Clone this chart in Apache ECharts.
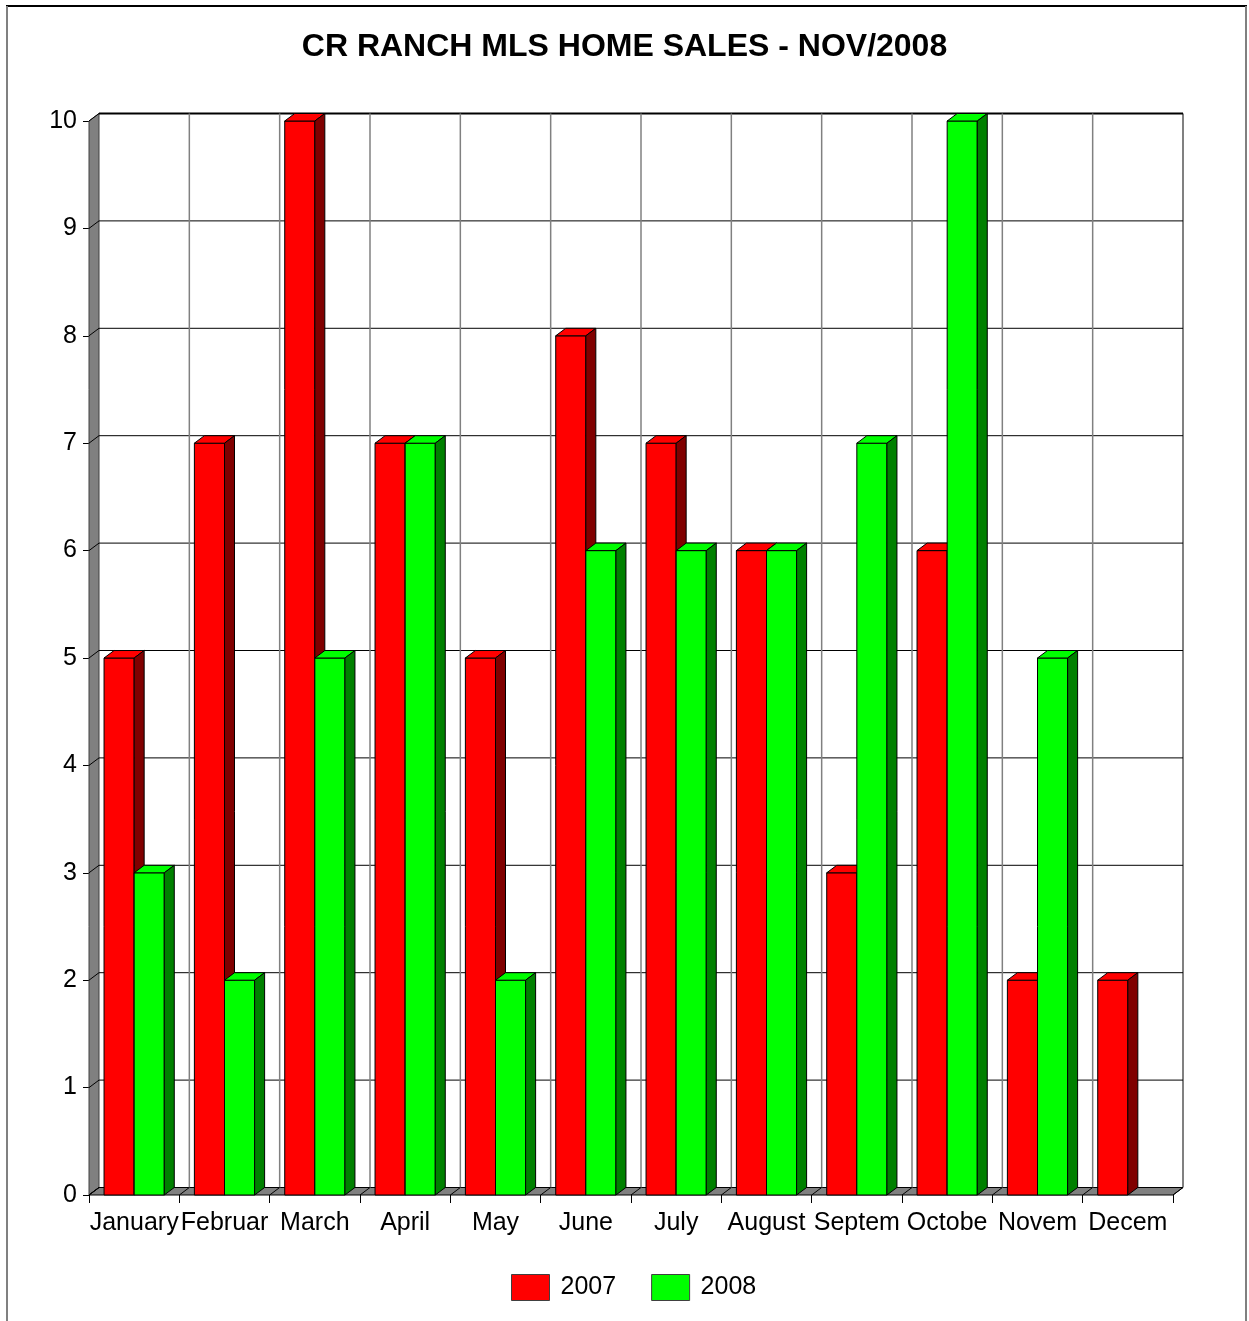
<!DOCTYPE html>
<html>
<head>
<meta charset="utf-8">
<script src="https://cdn.jsdelivr.net/npm/echarts@6/dist/echarts.min.js"></script>
<style>html,body{margin:0;padding:0;background:#fff;}#c{width:1249px;height:1321px;}</style>
</head>
<body>
<div id="c"></div>
<script>
const categories = ['January','Februar','March','April','May','June','July','August','Septem','Octobe','Novem','Decem'];
const sales2007 = [5, 7, 10, 7, 5, 8, 7, 6, 3, 6, 2, 2];
const sales2008 = [3, 2, 5, 7, 2, 6, 6, 6, 7, 10, 5, null];
const yTicks = [0,1,2,3,4,5,6,7,8,9,10];

const DX = 10, DY = 7.5; // 3D depth offset
const FONT = '"Liberation Sans", Arial, sans-serif';

function boxRender(front, side) {
  return function (params, api) {
    const v = api.value(1);
    if (v === null || v === undefined || isNaN(v) || v <= 0) return null;
    const idx = api.value(0);
    const band = api.size([1, 0])[0];
    const bw = band / 3;
    const c = api.coord([idx, v]);
    const b = api.coord([idx, 0]);
    const isFirst = params.seriesIndex === 3;
    const x0 = isFirst ? c[0] - bw : c[0];
    const x1 = x0 + bw;
    const yt = c[1], yb = b[1];
    const st = {stroke: '#000', lineWidth: 1};
    return {
      type: 'group',
      children: [
        {type: 'rect', shape: {x: x0, y: yt, width: bw, height: yb - yt}, style: Object.assign({fill: front}, st)},
        {type: 'polygon', shape: {points: [[x0, yt], [x1, yt], [x1 + DX, yt - DY], [x0 + DX, yt - DY]]}, style: Object.assign({fill: front}, st)},
        {type: 'polygon', shape: {points: [[x1, yt], [x1 + DX, yt - DY], [x1 + DX, yb - DY], [x1, yb]]}, style: Object.assign({fill: side}, st)}
      ]
    };
  };
}

const chart = echarts.init(document.getElementById('c'), null, {renderer: 'canvas'});
chart.setOption({
  backgroundColor: '#fff',
  animation: false,
  title: {
    text: 'CR RANCH MLS HOME SALES - NOV/2008',
    left: 'center', top: 26,
    textStyle: {fontFamily: FONT, fontSize: 32, fontWeight: 'bold', color: '#000'}
  },
  legend: {
    data: ['2007', '2008'],
    left: 506, top: 1269,
    icon: 'rect', itemWidth: 38, itemHeight: 26, itemGap: 35,
    textStyle: {fontFamily: FONT, fontSize: 25, color: '#000', padding: [0, 0, 0, 6]},
    itemStyle: {borderColor: '#404040', borderWidth: 1}
  },
  graphic: [
    {type: 'line', shape: {x1: 6, y1: 6, x2: 1247, y2: 6}, style: {stroke: '#000', lineWidth: 2}, z: 0},
    {type: 'line', shape: {x1: 7, y1: 6, x2: 7, y2: 1321}, style: {stroke: '#808080', lineWidth: 2}, z: 0},
    {type: 'line', shape: {x1: 1246, y1: 6, x2: 1246, y2: 1321}, style: {stroke: '#808080', lineWidth: 2}, z: 0}
  ],
  grid: {left: 89, right: 76, top: 121, bottom: 126, containLabel: false},
  xAxis: {
    type: 'category', data: categories, boundaryGap: true,
    axisLine: {show: false},
    axisTick: {show: true, interval: 0, length: 8, lineStyle: {color: '#000', width: 1}},
    axisLabel: {interval: 0, margin: 16, fontFamily: FONT, fontSize: 25, color: '#000'},
    splitLine: {show: false}
  },
  yAxis: {
    type: 'value', min: 0, max: 10, interval: 1,
    axisLine: {show: false},
    axisTick: {show: true, length: 6, lineStyle: {color: '#000', width: 1}},
    axisLabel: {margin: 12, fontFamily: FONT, fontSize: 25, color: '#000'},
    splitLine: {show: false}
  },
  series: [
    {
      type: 'custom', name: 'walls', silent: true, z: 1, legendHoverLink: false,
      data: [[0, 0]],
      renderItem: function (params, api) {
        const cs = params.coordSys;
        const xl = cs.x, xr = cs.x + cs.width, yt = cs.y, yb = cs.y + cs.height;
        return {
          type: 'group',
          children: [
            {type: 'rect', shape: {x: xl + DX, y: yt - DY, width: cs.width, height: cs.height}, style: {fill: '#fff', stroke: null}},
            {type: 'polygon', shape: {points: [[xl, yt], [xl + DX, yt - DY], [xl + DX, yb - DY], [xl, yb]]}, style: {fill: '#808080', stroke: '#404040', lineWidth: 1}},
            {type: 'polygon', shape: {points: [[xl, yb], [xl + DX, yb - DY], [xr + DX, yb - DY], [xr, yb]]}, style: {fill: '#808080', stroke: '#000', lineWidth: 1}},
            {type: 'line', shape: {x1: xr + DX, y1: yt - DY, x2: xr + DX, y2: yb - DY}, style: {stroke: '#808080', lineWidth: 2}}
          ]
        };
      }
    },
    {
      type: 'custom', name: 'ygrid', silent: true, z: 2,
      data: yTicks.map(function (t) { return [0, t]; }),
      renderItem: function (params, api) {
        const cs = params.coordSys;
        const y = api.coord([0, api.value(1)])[1];
        const xl = cs.x, xr = cs.x + cs.width;
        const top = api.value(1) === 10;
        return {
          type: 'group',
          children: [
            {type: 'line', shape: {x1: xl + DX, y1: y - DY, x2: xr + DX, y2: y - DY}, style: {stroke: '#000', lineWidth: top ? 2 : 1}},
            {type: 'line', shape: {x1: xl, y1: y, x2: xl + DX, y2: y - DY}, style: {stroke: '#000', lineWidth: 1}}
          ]
        };
      }
    },
    {
      type: 'custom', name: 'xgrid', silent: true, z: 2,
      data: categories.map(function (c, i) { return [i, 0]; }),
      renderItem: function (params, api) {
        const cs = params.coordSys;
        const band = api.size([1, 0])[0];
        const i = api.value(0);
        const x = api.coord([i, 0])[0] - band / 2;
        const yt = cs.y, yb = cs.y + cs.height;
        const ch = [];
        if (i > 0) {
          ch.push({type: 'line', shape: {x1: x + DX, y1: yt - DY, x2: x + DX, y2: yb - DY}, style: {stroke: '#808080', lineWidth: 1.5}});
        }
        ch.push({type: 'line', shape: {x1: x, y1: yb, x2: x + DX, y2: yb - DY}, style: {stroke: '#000', lineWidth: 1}});
        if (i === categories.length - 1) {
          ch.push({type: 'line', shape: {x1: x + band, y1: yb, x2: x + band + DX, y2: yb - DY}, style: {stroke: '#000', lineWidth: 1}});
        }
        return {type: 'group', children: ch};
      }
    },
    {
      type: 'custom', name: '2007', z: 3,
      itemStyle: {color: '#FF0000'},
      encode: {x: 0, y: 1},
      data: sales2007.map(function (v, i) { return [i, v]; }),
      renderItem: boxRender('#FF0000', '#800000')
    },
    {
      type: 'custom', name: '2008', z: 3,
      itemStyle: {color: '#00FF00'},
      encode: {x: 0, y: 1},
      data: sales2008.map(function (v, i) { return [i, v]; }),
      renderItem: boxRender('#00FF00', '#008000')
    }
  ]
});
</script>
</body>
</html>
